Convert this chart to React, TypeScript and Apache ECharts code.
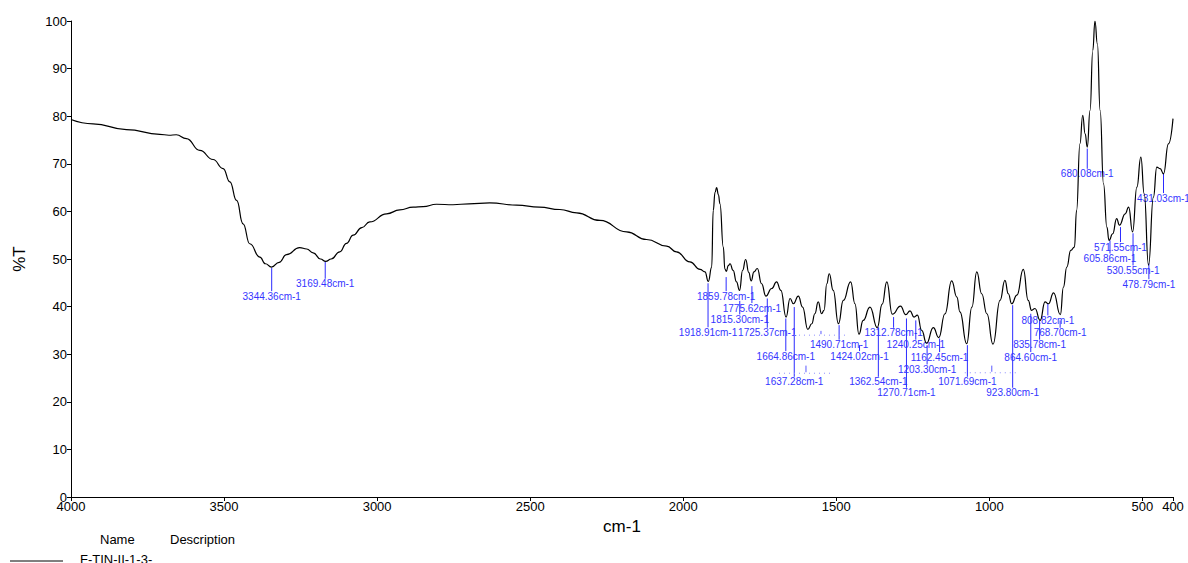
import React, { useEffect, useRef } from "react";
import * as echarts from "echarts";

// IR spectrum trace: [wavenumber cm-1, %T]
const spectrum: [number, number][] = [
  [4000, 79.3], [3928, 78.4], [3819, 77.2], [3710, 76.2], [3680, 76.0], [3656, 76.1], [3623, 75.3],
  [3579, 72.8], [3536, 70.9], [3503, 69.0], [3481, 66.2], [3459, 62.3], [3438, 57.4], [3416, 53.2],
  [3383, 50.4], [3365, 49.0], [3345, 48.3], [3320, 49.3], [3296, 50.9], [3253, 52.4], [3230, 52.1],
  [3209, 51.3], [3185, 50.0], [3168, 49.5], [3150, 50.0], [3122, 51.5], [3100, 53.3], [3078, 55.0],
  [3050, 56.6], [3024, 57.8], [2969, 59.5], [2926, 60.3], [2882, 60.9], [2850, 61.0], [2806, 61.5],
  [2752, 61.4], [2700, 61.6], [2632, 61.8], [2544, 61.3], [2470, 60.9], [2403, 60.4], [2348, 59.7],
  [2272, 58.1], [2185, 55.7], [2120, 54.1], [2054, 52.7], [2022, 51.5], [1978, 49.4], [1945, 47.8],
  [1929, 47.3], [1918, 45.3], [1907, 48.3], [1902, 60.2], [1896, 64.0], [1891, 65.0], [1885, 63.5],
  [1880, 61.6], [1869, 52.5], [1864, 47.9], [1859, 47.4], [1853, 48.6], [1847, 49.0], [1837, 47.6],
  [1826, 45.2], [1816, 43.4], [1806, 47.6], [1796, 49.9], [1786, 47.2], [1778, 45.4], [1769, 47.3],
  [1758, 48.0], [1744, 44.8], [1730, 42.2], [1711, 43.8], [1695, 45.2], [1681, 43.4], [1664, 37.8],
  [1651, 41.7], [1640, 40.6], [1624, 42.2], [1610, 39.9], [1593, 35.2], [1580, 36.4], [1570, 38.5],
  [1559, 41.0], [1548, 38.5], [1540, 39.2], [1531, 44.8], [1523, 46.9], [1510, 43.4], [1493, 36.4],
  [1477, 41.3], [1453, 45.2], [1439, 40.6], [1426, 34.2], [1412, 37.1], [1390, 39.9], [1366, 35.6],
  [1350, 40.5], [1335, 45.2], [1317, 38.4], [1290, 40.1], [1273, 38.3], [1259, 39.1], [1246, 37.8],
  [1235, 38.2], [1221, 35.0], [1205, 32.3], [1183, 35.6], [1165, 33.5], [1145, 38.5], [1123, 45.4],
  [1106, 42.0], [1096, 38.9], [1074, 32.2], [1057, 39.9], [1041, 47.3], [1025, 42.7], [1008, 38.5],
  [988, 32.1], [965, 41.3], [949, 45.5], [938, 42.7], [927, 40.6], [910, 42.4], [889, 47.8],
  [873, 41.3], [862, 39.2], [851, 39.6], [834, 37.1], [818, 41.0], [807, 40.6], [790, 42.9],
  [768, 38.3], [758, 44.1], [747, 48.3], [734, 51.8], [722, 52.5], [715, 60.2], [704, 74.2],
  [695, 80.2], [687, 76.3], [680, 73.5], [671, 81.2], [662, 93.8], [655, 100], [647, 95.2],
  [638, 81.2], [627, 65.8], [616, 56.7], [609, 53.9], [597, 55.3], [584, 58.5], [575, 57.1],
  [556, 59.5], [545, 60.9], [532, 55.7], [518, 65.1], [505, 71.4], [494, 63.7], [480, 48.7],
  [464, 63.0], [453, 69.3], [442, 69.0], [431, 67.9], [415, 74.2], [400, 79.5],
];

// Peak picks
const peakWavenumbers = [
  3344.36, 3169.48, 1918.91, 1859.78, 1815.30, 1775.62, 1725.37, 1664.86, 1637.28, 1490.71,
  1424.02, 1362.54, 1312.78, 1270.71, 1240.25, 1203.30, 1162.45, 1071.69, 923.80, 864.60,
  835.78, 808.82, 768.70, 680.08, 605.86, 571.55, 530.55, 478.79, 431.03,
];
// %T where each marker line starts, and %T of its label
const peakLineTop = [
  48.1, 49.4, 44.9, 46.2, 41.2, 44.3, 41.7, 37.5, 39.9, 36.1,
  31.9, 35.7, 37.8, 37.5, 37.1, 31.9, 33.3, 31.9, 40.3, 38.5,
  37.1, 40.6, 37.1, 73.2, 53.9, 56.7, 55.4, 49.1, 68.0,
];
const peakLabelY = [
  42.2, 44.8, 34.6, 42.2, 37.3, 39.7, 34.5, 29.6, 24.2, 32.0,
  29.6, 24.2, 34.5, 21.9, 32.0, 26.8, 29.4, 24.2, 21.9, 29.4,
  32.0, 37.1, 34.5, 67.9, 50.1, 52.5, 47.6, 44.7, 62.8,
];
const peakLabels = peakWavenumbers.map((w) => `${w.toFixed(2)}cm-1`);

// Squeezed (unreadable) labels drawn as dotted marks: [wavenumber, tick top %T, dotted %T]
const squeezedMarks: [number, number, number][] = [
  [1599, 27.6, 26.0],
  [1550, 34.9, 34.0],
  [992, 27.6, 26.1],
];

const xTicks = [4000, 3500, 3000, 2500, 2000, 1500, 1000, 500, 400];

export default function App() {
  const ref = useRef<HTMLDivElement>(null);
  useEffect(() => {
    if (!ref.current) return;
    const chart = echarts.init(ref.current, undefined, { renderer: "svg" });
    const font = "Liberation Sans, Arial, sans-serif";
    chart.setOption({
      animation: false,
      backgroundColor: "#ffffff",
      textStyle: { fontFamily: font },
      grid: { left: 71, right: 15, top: 21, bottom: 66, containLabel: false },
      xAxis: {
        type: "value",
        inverse: true,
        min: 400,
        max: 4000,
        name: "cm-1",
        nameLocation: "middle",
        nameGap: 19,
        nameTextStyle: { fontSize: 17, color: "#000", fontFamily: font },
        axisLine: { show: true, lineStyle: { color: "#000", width: 1 } },
        axisTick: { show: true, length: 4, customValues: xTicks, lineStyle: { color: "#000" } },
        axisLabel: {
          customValues: xTicks,
          formatter: (v: number) => String(v),
          fontSize: 13,
          color: "#000",
          margin: 3,
          fontFamily: font,
        },
        splitLine: { show: false },
      },
      yAxis: {
        type: "value",
        min: 0,
        max: 100,
        interval: 10,
        name: "%T",
        nameLocation: "middle",
        nameGap: 43,
        nameTextStyle: { fontSize: 17, color: "#000", fontFamily: font },
        axisLine: { show: true, lineStyle: { color: "#000", width: 1 } },
        axisTick: { show: true, length: 4, lineStyle: { color: "#000" } },
        axisLabel: { fontSize: 13, color: "#000", margin: 4, fontFamily: font },
        splitLine: { show: false },
      },
      series: [
        {
          type: "line",
          data: spectrum,
          showSymbol: false,
          smooth: 0.5,
          smoothMonotone: "x",
          lineStyle: { color: "#000", width: 1.2 },
          silent: true,
        },
        {
          type: "custom",
          silent: true,
          clip: false,
          data: peakWavenumbers.map((w, i) => [w, peakLineTop[i], peakLabelY[i]]),
          renderItem: (params: any, api: any) => {
            const w = api.value(0);
            const p1 = api.coord([w, api.value(1)]);
            const p2 = api.coord([w, api.value(2)]);
            return {
              type: "group",
              children: [
                {
                  type: "line",
                  shape: { x1: p1[0], y1: p1[1], x2: p1[0], y2: p2[1] - 5 },
                  style: { stroke: "#2b2bff", lineWidth: 1 },
                },
                {
                  type: "text",
                  x: p2[0],
                  y: p2[1],
                  style: {
                    text: peakLabels[params.dataIndex],
                    fill: "#3535ff",
                    font: `10px ${font}`,
                    align: "center",
                    verticalAlign: "middle",
                  },
                },
              ],
            };
          },
        },
        {
          type: "custom",
          silent: true,
          clip: false,
          data: squeezedMarks,
          renderItem: (params: any, api: any) => {
            const w = api.value(0);
            const p1 = api.coord([w, api.value(1)]);
            const p2 = api.coord([w, api.value(2)]);
            return {
              type: "group",
              children: [
                {
                  type: "line",
                  shape: { x1: p1[0], y1: p1[1], x2: p1[0], y2: p2[1] - 1 },
                  style: { stroke: "#5a5aff", lineWidth: 1 },
                },
                {
                  type: "line",
                  shape: { x1: p2[0] - 27, y1: p2[1], x2: p2[0] + 27, y2: p2[1] },
                  style: { stroke: "#8c8cff", lineWidth: 1, lineDash: [1, 4] },
                },
              ],
            };
          },
        },
      ],
      graphic: [
        {
          type: "text",
          left: 100,
          top: 533,
          style: { text: "Name", font: `13px ${font}`, fill: "#000" },
        },
        {
          type: "text",
          left: 170,
          top: 533,
          style: { text: "Description", font: `13px ${font}`, fill: "#000" },
        },
        {
          type: "line",
          shape: { x1: 10, y1: 561, x2: 63, y2: 561 },
          style: { stroke: "#000", lineWidth: 1 },
        },
        {
          type: "text",
          left: 80,
          top: 553,
          style: { text: "F-TIN-II-1-3-", font: `13px ${font}`, fill: "#000" },
        },
      ],
    });
    return () => chart.dispose();
  }, []);
  return (
    <div
      ref={ref}
      style={{ position: "absolute", left: 0, top: 0, width: 1188, height: 563 }}
    />
  );
}
